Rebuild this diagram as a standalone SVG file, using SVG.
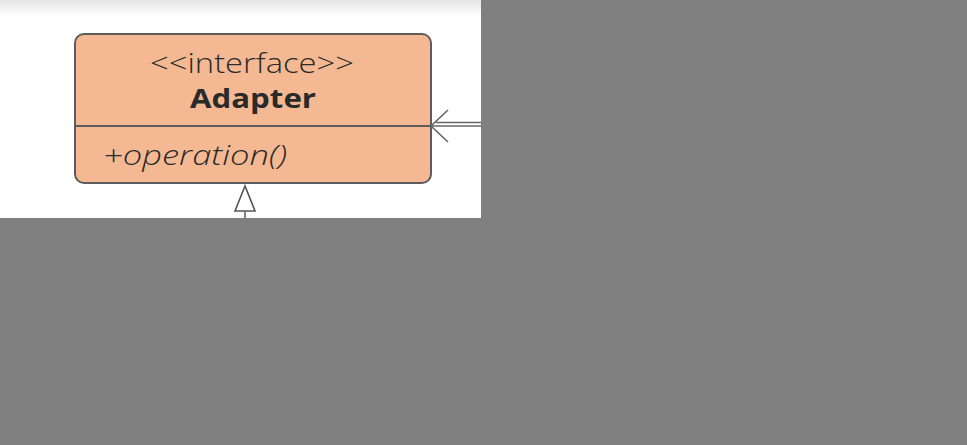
<svg xmlns="http://www.w3.org/2000/svg" width="967" height="445" viewBox="0 0 967 445">
<defs>
<linearGradient id="topShade" x1="0" y1="0" x2="0" y2="1">
<stop offset="0" stop-color="#e4e4e4"/>
<stop offset="1" stop-color="#ffffff"/>
</linearGradient>
<style>
.box{fill:#f4b992;stroke:#5c5c5c;stroke-width:2}
.div{stroke:#5c5c5c;stroke-width:2}
.t{font-family:"Open Sans",Lato,sans-serif;font-size:27px;fill:#2a2a2a}
.conn{stroke:#666;stroke-width:1.6;fill:none}
</style>
</defs>
<rect width="967" height="445" fill="#ffffff"/>
<rect x="0" y="0" width="481" height="16" fill="url(#topShade)"/>
<g id="adapter">
<rect class="box" x="75" y="34" width="356" height="149" rx="9"/>
<line class="div" x1="75" y1="126" x2="431" y2="126"/>
<text class="t" x="150" y="73" font-weight="300" textLength="204" lengthAdjust="spacingAndGlyphs">&lt;&lt;interface&gt;&gt;</text>
<text class="t" x="190" y="108" font-weight="bold" fill="#1e1e1e" textLength="126" lengthAdjust="spacingAndGlyphs">Adapter</text>
<text class="t" x="103" y="165" font-style="italic" font-weight="300" textLength="184" lengthAdjust="spacingAndGlyphs">+operation()</text>
</g>
<g id="connectors">
<line class="conn" x1="431" y1="126" x2="481" y2="126" stroke-width="1"/>
<line class="conn" x1="436" y1="122.5" x2="481" y2="122.5" stroke-width="1" stroke="#aaa"/>
<polyline class="conn" points="448,110 431,126 448,142" stroke-width="2"/>
<polygon points="245,186 235,211 255,211" fill="#ffffff" stroke="#555" stroke-width="1.6"/>
<line class="conn" x1="245" y1="211" x2="245" y2="218"/>
</g>
<path d="M481,0 H967 V445 H0 V218 H481 Z" fill="#808080"/>
</svg>
